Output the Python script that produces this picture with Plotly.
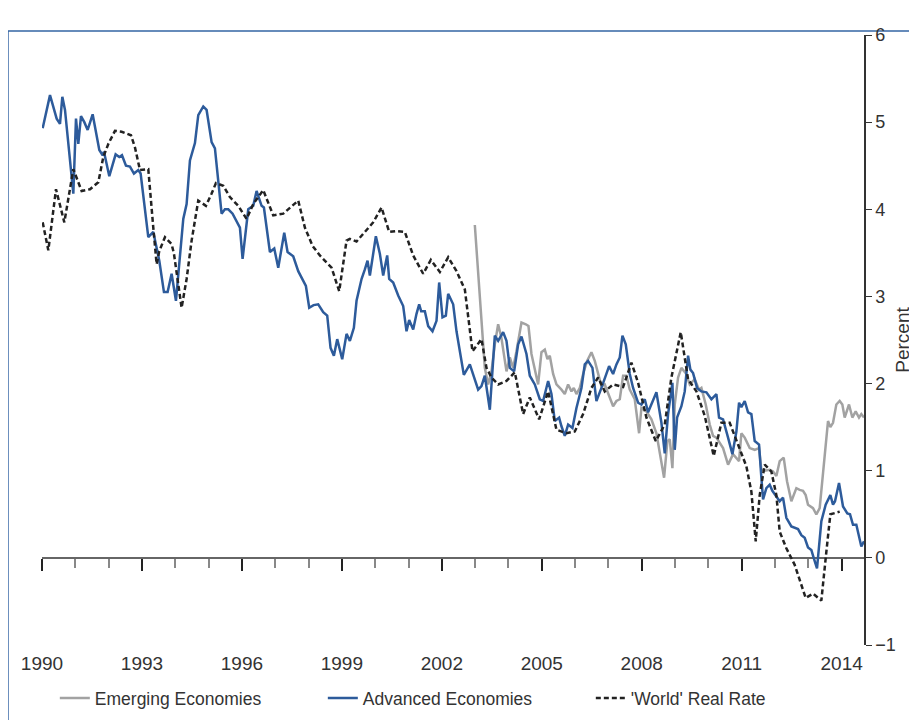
import plotly.graph_objects as go

# decimal years / percent
emg_x = [2002.99, 2003.19, 2003.29, 2003.39, 2003.49, 2003.59, 2003.69, 2003.79, 2003.94, 2004.04,
         2004.14, 2004.24, 2004.39, 2004.52, 2004.60, 2004.69, 2004.79, 2004.89, 2004.99, 2005.09,
         2005.17, 2005.24, 2005.34, 2005.44, 2005.59, 2005.69, 2005.79, 2005.89, 2005.96, 2006.04,
         2006.14, 2006.24, 2006.36, 2006.49, 2006.59, 2006.69, 2006.79, 2006.89, 2007.04, 2007.14,
         2007.24, 2007.34, 2007.44, 2007.54, 2007.64, 2007.79, 2007.92, 2007.99, 2008.14, 2008.29,
         2008.44, 2008.57, 2008.67, 2008.77, 2008.84, 2008.92, 2008.99, 2009.09, 2009.19, 2009.32,
         2009.44, 2009.59, 2009.72, 2009.79, 2009.92, 2010.04, 2010.14, 2010.24, 2010.34, 2010.44,
         2010.59, 2010.74, 2010.92, 2010.99, 2011.09, 2011.24, 2011.39, 2011.52, 2011.59, 2011.69,
         2011.84, 2011.94, 2012.04, 2012.14, 2012.26, 2012.36, 2012.49, 2012.64, 2012.74, 2012.84,
         2012.92, 2012.99, 2013.14, 2013.24, 2013.34, 2013.49, 2013.59, 2013.66, 2013.74, 2013.84,
         2013.94, 2014.02, 2014.09, 2014.22, 2014.32, 2014.42, 2014.52, 2014.59, 2014.67]
emg_y = [3.82, 2.80, 2.18, 1.99, 2.14, 2.45, 2.68, 2.52, 2.14, 2.30,
         2.18, 2.37, 2.70, 2.68, 2.66, 2.34, 2.18, 1.99, 2.36, 2.39,
         2.28, 2.32, 2.11, 1.99, 1.93, 1.88, 1.99, 1.91, 1.95, 1.88,
         1.95, 2.11, 2.26, 2.36, 2.26, 2.11, 1.97, 1.99, 1.84, 1.74,
         1.80, 1.82, 2.09, 2.09, 1.93, 1.82, 1.43, 1.72, 1.68, 1.59,
         1.43, 1.15, 0.92, 1.34, 1.36, 1.03, 1.76, 2.07, 2.18, 2.12,
         1.99, 2.05, 1.93, 1.95, 1.76, 1.53, 1.40, 1.38, 1.32, 1.26,
         1.07, 1.19, 1.11, 1.43, 1.38, 1.26, 1.24, 1.26, 1.01, 1.00,
         1.01, 0.99, 0.94, 1.11, 1.15, 0.88, 0.65, 0.80, 0.78, 0.77,
         0.72, 0.61, 0.57, 0.50, 0.57, 1.15, 1.57, 1.50, 1.55, 1.76,
         1.80, 1.76, 1.61, 1.76, 1.61, 1.68, 1.61, 1.65, 1.61]

adv_x = [1990.02, 1990.24, 1990.44, 1990.54, 1990.61, 1990.69, 1990.94, 1991.02, 1991.09, 1991.17,
         1991.27, 1991.37, 1991.52, 1991.72, 1991.82, 1991.86, 1992.02, 1992.21, 1992.32, 1992.40,
         1992.52, 1992.64, 1992.76, 1992.89, 1992.96, 1993.19, 1993.34, 1993.52, 1993.66, 1993.77,
         1993.89, 1994.02, 1994.24, 1994.34, 1994.44, 1994.59, 1994.69, 1994.84, 1994.94, 1995.09,
         1995.19, 1995.39, 1995.49, 1995.59, 1995.72, 1995.94, 1996.02, 1996.19, 1996.34, 1996.44,
         1996.59, 1996.66, 1996.84, 1996.97, 1997.09, 1997.27, 1997.37, 1997.54, 1997.69, 1997.92,
         1998.02, 1998.15, 1998.29, 1998.44, 1998.56, 1998.66, 1998.76, 1998.86, 1999.01, 1999.14,
         1999.24, 1999.36, 1999.44, 1999.59, 1999.69, 1999.77, 1999.84, 2000.02, 2000.14, 2000.24,
         2000.36, 2000.42, 2000.54, 2000.69, 2000.84, 2000.94, 2001.02, 2001.14, 2001.24, 2001.32,
         2001.38, 2001.49, 2001.59, 2001.72, 2001.84, 2001.92, 2002.02, 2002.12, 2002.19, 2002.34,
         2002.44, 2002.54, 2002.66, 2002.84, 2002.99, 2003.09, 2003.19, 2003.29, 2003.44, 2003.59,
         2003.69, 2003.84, 2003.94, 2004.04, 2004.17, 2004.29, 2004.39, 2004.54, 2004.64, 2004.79,
         2004.94, 2005.04, 2005.19, 2005.29, 2005.39, 2005.52, 2005.59, 2005.69, 2005.79, 2005.92,
         2006.04, 2006.19, 2006.29, 2006.39, 2006.52, 2006.64, 2006.79, 2006.89, 2007.02, 2007.14,
         2007.24, 2007.34, 2007.42, 2007.52, 2007.64, 2007.74, 2007.89, 2007.99, 2008.09, 2008.19,
         2008.29, 2008.44, 2008.59, 2008.69, 2008.79, 2008.92, 2008.99, 2009.06, 2009.19, 2009.29,
         2009.39, 2009.46, 2009.54, 2009.66, 2009.79, 2009.94, 2010.09, 2010.24, 2010.32, 2010.44,
         2010.59, 2010.72, 2010.84, 2010.92, 2010.99, 2011.09, 2011.19, 2011.29, 2011.39, 2011.52,
         2011.59, 2011.64, 2011.74, 2011.84, 2011.92, 2012.04, 2012.14, 2012.24, 2012.34, 2012.49,
         2012.69, 2012.79, 2012.89, 2012.99, 2013.09, 2013.16, 2013.26, 2013.39, 2013.52, 2013.66,
         2013.74, 2013.80, 2013.92, 2014.04, 2014.17, 2014.25, 2014.34, 2014.44, 2014.54, 2014.59,
         2014.67]
adv_y = [4.93, 5.31, 5.04, 4.98, 5.29, 5.14, 4.18, 5.04, 4.75, 5.07,
         5.00, 4.91, 5.09, 4.68, 4.62, 4.66, 4.38, 4.63, 4.60, 4.62,
         4.50, 4.49, 4.41, 4.45, 4.41, 3.68, 3.74, 3.41, 3.05, 3.05,
         3.26, 2.95, 3.89, 4.06, 4.56, 4.76, 5.08, 5.18, 5.14, 4.77,
         4.70, 3.95, 4.00, 4.00, 3.95, 3.79, 3.43, 4.00, 4.04, 4.21,
         4.04, 4.02, 3.51, 3.55, 3.33, 3.73, 3.51, 3.46, 3.29, 3.12,
         2.87, 2.90, 2.91, 2.82, 2.78, 2.41, 2.32, 2.51, 2.28, 2.57,
         2.49, 2.64, 2.95, 3.20, 3.31, 3.41, 3.24, 3.69, 3.49, 3.24,
         3.47, 3.20, 3.16, 3.01, 2.89, 2.60, 2.73, 2.62, 2.80, 2.91,
         2.83, 2.83, 2.66, 2.60, 2.72, 3.16, 2.76, 2.78, 3.03, 2.91,
         2.60, 2.37, 2.10, 2.22, 2.06, 1.93, 1.97, 2.09, 1.70, 2.55,
         2.49, 2.59, 2.49, 2.18, 2.14, 2.45, 2.54, 2.34, 2.09, 1.99,
         1.82, 1.80, 2.03, 1.88, 1.57, 1.61, 1.51, 1.40, 1.53, 1.49,
         1.72, 1.95, 2.22, 2.26, 2.18, 1.80, 1.95, 2.07, 2.20, 2.11,
         2.22, 2.30, 2.55, 2.45, 2.11, 1.95, 1.78, 1.76, 1.82, 1.67,
         1.76, 1.90, 1.55, 1.20, 1.65, 2.01, 1.24, 1.61, 1.74, 1.91,
         2.32, 2.16, 2.12, 1.95, 1.91, 1.90, 1.82, 1.88, 1.61, 1.59,
         1.38, 1.19, 1.45, 1.78, 1.73, 1.80, 1.67, 1.65, 1.34, 1.30,
         0.92, 0.67, 0.80, 0.84, 0.77, 0.71, 0.65, 0.69, 0.46, 0.36,
         0.33, 0.26, 0.23, 0.12, 0.09, 0.00, -0.12, 0.42, 0.61, 0.72,
         0.61, 0.65, 0.86, 0.59, 0.51, 0.50, 0.38, 0.38, 0.23, 0.13,
         0.19]

world_x = [1990.02, 1990.19, 1990.42, 1990.67, 1990.94, 1991.19, 1991.44, 1991.69, 1991.84, 1991.99,
           1992.19, 1992.39, 1992.67, 1992.79, 1992.94, 1993.19, 1993.34, 1993.44, 1993.52, 1993.69,
           1993.89, 1993.96, 1994.09, 1994.19, 1994.34, 1994.49, 1994.69, 1994.92, 1995.09, 1995.22,
           1995.44, 1995.64, 1995.89, 1996.14, 1996.34, 1996.64, 1996.94, 1997.24, 1997.69, 1997.89,
           1998.12, 1998.34, 1998.69, 1998.92, 1999.14, 1999.24, 1999.44, 1999.69, 1999.94, 2000.19,
           2000.42, 2000.64, 2000.89, 2001.14, 2001.44, 2001.67, 2001.94, 2002.19, 2002.44, 2002.69,
           2002.92, 2003.19, 2003.34, 2003.49, 2003.69, 2003.94, 2004.19, 2004.44, 2004.64, 2004.92,
           2005.19, 2005.44, 2005.74, 2005.99, 2006.24, 2006.49, 2006.69, 2006.89, 2007.14, 2007.44,
           2007.69, 2007.89, 2008.14, 2008.42, 2008.69, 2008.89, 2009.17, 2009.39, 2009.64, 2009.89,
           2010.16, 2010.39, 2010.64, 2010.89, 2011.14, 2011.29, 2011.42, 2011.54, 2011.69, 2011.89,
           2012.04, 2012.14, 2012.34, 2012.59, 2012.74, 2012.92, 2013.14, 2013.39, 2013.54, 2013.66,
           2013.94]
world_y = [3.85, 3.53, 4.23, 3.85, 4.46, 4.21, 4.23, 4.31, 4.60, 4.75,
           4.90, 4.89, 4.85, 4.71, 4.45, 4.46, 3.79, 3.37, 3.52, 3.68,
           3.60, 3.49, 3.14, 2.87, 3.20, 3.64, 4.10, 4.04, 4.18, 4.30,
           4.27, 4.14, 4.04, 3.89, 4.06, 4.22, 3.93, 3.95, 4.10, 3.79,
           3.58, 3.47, 3.33, 3.06, 3.64, 3.66, 3.63, 3.74, 3.85, 4.02,
           3.74, 3.75, 3.74, 3.47, 3.26, 3.42, 3.28, 3.45, 3.29, 3.08,
           2.37, 2.51, 2.18, 2.07, 1.99, 2.03, 2.13, 1.65, 1.84, 1.59,
           1.91, 1.47, 1.43, 1.45, 1.65, 1.95, 2.07, 1.91, 1.99, 1.96,
           2.24, 2.01, 1.61, 1.34, 1.53, 2.07, 2.59, 2.05, 1.91, 1.63,
           1.17, 1.55, 1.55, 1.30, 1.05, 0.76, 0.19, 0.72, 1.07, 0.99,
           0.72, 0.30, 0.11, -0.08, -0.25, -0.46, -0.41, -0.49, 0.07, 0.50,
           0.53]

major_years = [1990, 1993, 1996, 1999, 2002, 2005, 2008, 2011, 2014]
all_years = list(range(1990, 2015))
x_range = [1990, 2014.67]

fig = go.Figure()
fig.add_trace(go.Scatter(x=emg_x, y=emg_y, mode="lines", name="Emerging Economies",
                         line=dict(color="#a2a2a2", width=2.5)))
fig.add_trace(go.Scatter(x=adv_x, y=adv_y, mode="lines", name="Advanced Economies",
                         line=dict(color="#2d5b9b", width=2.5)))
# world rate sits on the overlaying axis so that the zero-line axis gets drawn
fig.add_trace(go.Scatter(x=world_x, y=world_y, mode="lines", name="'World' Real Rate",
                         xaxis="x2", line=dict(color="#222222", width=2.5, dash="5px,3px")))

txt = "#333333"
fig.update_layout(
    width=917, height=720,
    # page body adds an 8px offset, so margins are trimmed to compensate
    margin=dict(l=34, r=61, t=27, b=83, autoexpand=False),
    paper_bgcolor="white", plot_bgcolor="white",
    font=dict(family="Liberation Sans, Arial, sans-serif", color=txt),
    showlegend=True,
    legend=dict(orientation="h", x=0.0156, xanchor="left", y=-0.087, yanchor="middle",
                font=dict(size=17.5, color=txt), entrywidth=223, entrywidthmode="pixels",
                bgcolor="rgba(0,0,0,0)"),
    xaxis=dict(range=x_range, tickvals=major_years, ticks="outside", ticklen=1,
               tickcolor="rgba(0,0,0,0)", showline=False,
               showgrid=False, zeroline=False, automargin=False,
               tickfont=dict(size=19, color=txt)),
    # zero line with the year ticks
    xaxis2=dict(overlaying="x", anchor="free", position=1 / 7, side="bottom",
                range=x_range, showline=True, linecolor="#666666", linewidth=1.5,
                layer="below traces", automargin=False,
                tickvals=major_years, ticks="outside", ticklen=12, tickwidth=2,
                tickcolor="#222222", showticklabels=False, showgrid=False, zeroline=False,
                minor=dict(tickvals=all_years, ticks="outside", ticklen=9, tickwidth=1.5,
                           tickcolor="#888888", showgrid=False)),
    yaxis=dict(side="right", range=[-1, 6], dtick=1, showline=True, linecolor="#333333",
               linewidth=1.5, ticks="outside", ticklen=6, tickcolor="#333333",
               showgrid=False, zeroline=False, automargin=False,
               tickfont=dict(size=18, color=txt),
               title=dict(text="Percent", font=dict(size=19, color=txt), standoff=1)),
)

# blue frame around the figure
fig.add_shape(type="rect", xref="paper", yref="paper",
              x0=-0.0414, x1=1.3, y0=-0.4, y1=1.0066,
              line=dict(color="#3465a4", width=1.5), fillcolor="rgba(0,0,0,0)", layer="below")

fig.write_html("out.html")
